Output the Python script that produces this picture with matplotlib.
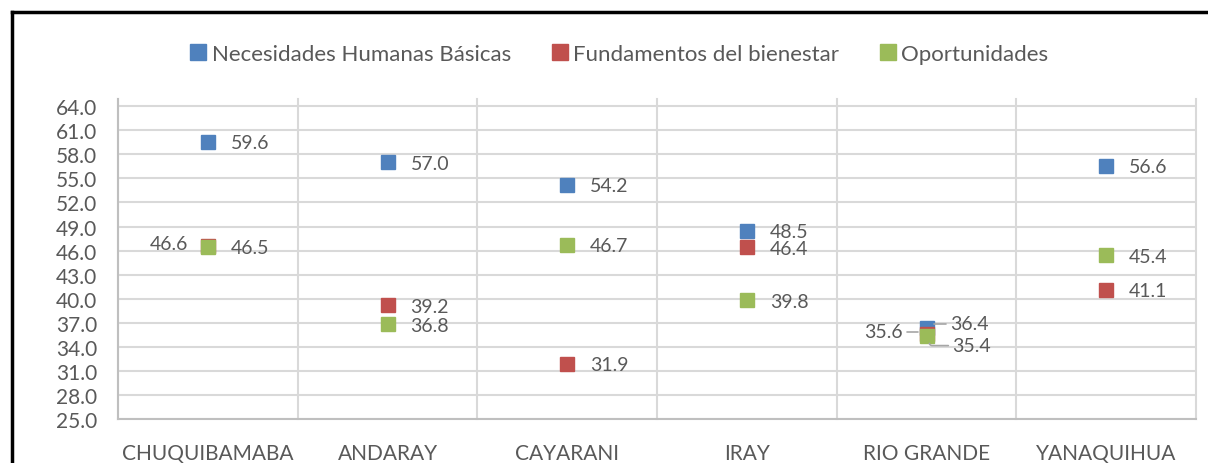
import numpy as np
import matplotlib.pyplot as plt
from matplotlib.lines import Line2D

plt.rcParams['font.family'] = ['Lato', 'DejaVu Sans']

# data
categories = ['CHUQUIBAMABA', 'ANDARAY', 'CAYARANI', 'IRAY', 'RIO GRANDE', 'YANAQUIHUA']
necesidades = [59.6, 57.0, 54.2, 48.5, 36.4, 56.6]
fundamentos = [46.6, 39.2, 31.9, 46.4, 35.6, 41.1]
oportunidades = [46.5, 36.8, 46.7, 39.8, 35.4, 45.4]
series_names = ['Necesidades Humanas Básicas', 'Fundamentos del bienestar', 'Oportunidades']
colors = ['#4F81BD', '#C0504D', '#9BBB59']
yticks = np.arange(25, 65, 3)

txt = '#595959'
grid = '#D9D9D9'

fig = plt.figure(figsize=(12.08, 4.64), dpi=100)
ax = fig.add_axes([118/1208, 1-420/464, (1196-118)/1208, (420-100)/464])

x = np.arange(len(categories))

# grid first
for yv in yticks:
    ax.axhline(yv, color=grid, lw=1.5, zorder=0)
for xv in np.arange(-0.5, len(categories), 1.0):
    ax.axvline(xv, color=grid, lw=1.5, zorder=0, clip_on=False)

all_series = [necesidades, fundamentos, oportunidades]
for vals, c in zip(all_series, colors):
    ax.plot(x, vals, 's', color=c, markersize=10.5, zorder=3, clip_on=False)

# data labels (default: right of marker)
special = {(0, 1), (4, 0), (4, 1), (4, 2)}
for si, vals in enumerate(all_series):
    for i, v in enumerate(vals):
        if (i, si) in special:
            continue
        ax.annotate(f'{v:.1f}', (x[i], v), xytext=(23, -1), textcoords='offset pixels',
                    ha='left', va='center', fontsize=14, color=txt, zorder=4)

# hidden one behind the green marker at CHUQUIBAMABA
ax.annotate(f'{fundamentos[0]:.1f}', (x[0], fundamentos[0]), xytext=(-20, 2),
            textcoords='offset pixels', ha='right', va='center', fontsize=14, color=txt)

# crowded RIO GRANDE labels with leader lines
lead = dict(arrowstyle='-', color='#A6A6A6', lw=1.2, shrinkA=1, shrinkB=6)
ax.annotate(f'{necesidades[4]:.1f}', (x[4], necesidades[4]), xytext=(24, 4),
            textcoords='offset pixels', ha='left', va='center', fontsize=14, color=txt,
            arrowprops=dict(lead, connectionstyle='angle,angleA=0,angleB=70,rad=2'))
ax.annotate(f'{oportunidades[4]:.1f}', (x[4], oportunidades[4]), xytext=(26, -10),
            textcoords='offset pixels', ha='left', va='center', fontsize=14, color=txt,
            arrowprops=dict(lead, connectionstyle='angle,angleA=0,angleB=-70,rad=2'))
ax.annotate(f'{fundamentos[4]:.1f}', (x[4], fundamentos[4]), xytext=(-24, 2),
            textcoords='offset pixels', ha='right', va='center', fontsize=14, color=txt,
            arrowprops=dict(lead, connectionstyle='angle,angleA=0,angleB=-30,rad=2'))

ax.set_xlim(-0.5, len(categories) - 0.5)
ax.set_ylim(25, 64.9)
ax.set_yticks(yticks)
ax.set_yticklabels([f'{v:.1f}' for v in yticks])
ax.set_xticks(x)
ax.set_xticklabels(categories)
ax.tick_params(axis='y', length=0, pad=15, labelsize=15, labelcolor=txt)
ax.tick_params(axis='x', length=0, pad=17, labelsize=15, labelcolor=txt)
for s in ['top', 'right']:
    ax.spines[s].set_visible(False)
for s in ['left', 'bottom']:
    ax.spines[s].set_color('#BFBFBF')
    ax.spines[s].set_linewidth(1.5)
ax.patch.set_alpha(0)

handles = [Line2D([], [], marker='s', linestyle='none', color=c, markersize=11) for c in colors]
fig.legend(handles, series_names, loc='center', bbox_to_anchor=(620/1208, 1-55/464), ncol=3,
           frameon=False, fontsize=16, labelcolor=txt, handlelength=0.6, handletextpad=0.3,
           columnspacing=1.9)

# outer border of the chart area
fig.add_artist(Line2D([12/1208, 1.0], [1-13/464, 1-13/464], color='black', lw=2.5))
fig.add_artist(Line2D([12/1208, 12/1208], [0, 1-13/464], color='black', lw=2.5))

fig.savefig('out.png', dpi=100)
